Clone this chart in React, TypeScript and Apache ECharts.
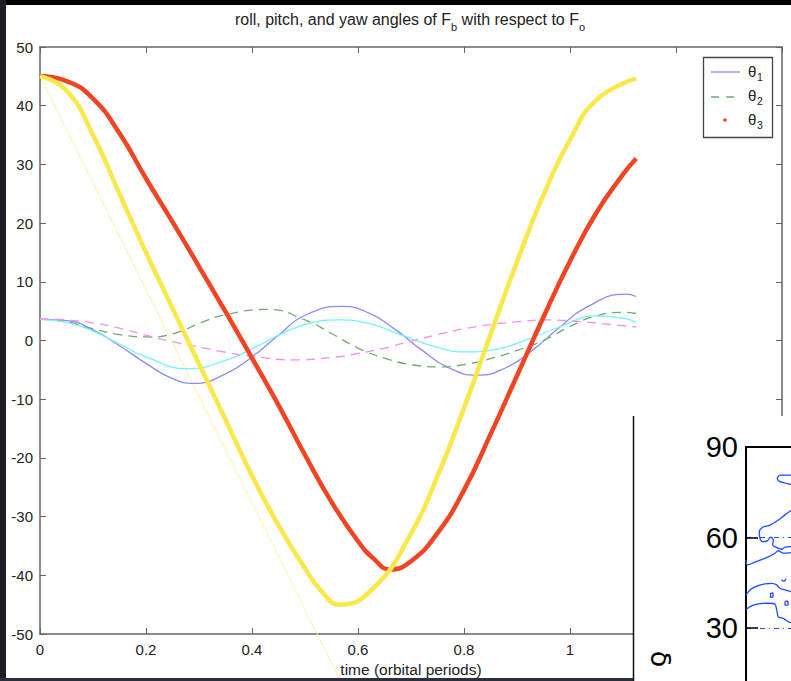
import React, { useEffect, useRef } from "react";
import * as echarts from "echarts";

// ---- main chart data (time in orbital periods, angles in degrees) ----
const theta1Time = [0, 0.05, 0.1, 0.15, 0.2, 0.25, 0.29, 0.35, 0.4, 0.45, 0.5, 0.57, 0.62, 0.67, 0.72, 0.77, 0.825, 0.88, 0.93, 0.98, 1.03, 1.105, 1.125];
const theta1 = [3.6, 3.4, 1.8, -0.9, -3.9, -6.5, -7.3, -5.7, -2.8, 0.9, 4.3, 5.8, 4.7, 1.9, -1.6, -4.6, -5.9, -4.6, -1.6, 2.2, 5.6, 7.9, 7.5];

const theta2Time = [0, 0.05, 0.1, 0.15, 0.21, 0.26, 0.3, 0.35, 0.43, 0.5, 0.55, 0.6, 0.65, 0.7, 0.755, 0.8, 0.85, 0.9, 0.95, 1.0, 1.05, 1.1, 1.125];
const theta2 = [3.6, 3.2, 2.0, 1.0, 0.6, 1.4, 2.9, 4.4, 5.3, 3.5, 1.2, -1.3, -3.0, -4.1, -4.5, -4.1, -3.1, -1.7, 0.0, 2.4, 4.2, 4.8, 4.6];

const theta3Time = [0, 0.05, 0.1, 0.15, 0.2, 0.25, 0.3, 0.35, 0.4, 0.45, 0.5, 0.55, 0.6, 0.63, 0.66, 0.7, 0.75, 0.8, 0.85, 0.9, 0.95, 1.0, 1.05, 1.1, 1.125];
const theta3 = [45, 44.2, 41.2, 35.3, 27.6, 20.2, 12.6, 4.9, -3, -11, -19.5, -27.5, -34.2, -37.2, -39, -37.6, -32.8, -25.5, -16, -6, 4, 13.5, 21.8, 28.3, 31];

const cyanTime = [0, 0.05, 0.1, 0.15, 0.2, 0.28, 0.35, 0.4, 0.45, 0.5, 0.56, 0.62, 0.68, 0.74, 0.8, 0.86, 0.92, 0.98, 1.05, 1.1, 1.125];
const cyanCurve = [3.6, 3.1, 1.6, -0.6, -2.8, -4.8, -3.4, -1.4, 0.9, 2.7, 3.5, 2.9, 1.0, -0.9, -1.95, -1.5, 0.2, 2.3, 4.2, 3.8, 3.1];

const magentaTime = [0, 0.05, 0.1, 0.15, 0.2, 0.25, 0.3, 0.35, 0.4, 0.48, 0.55, 0.6, 0.65, 0.7, 0.75, 0.8, 0.85, 0.9, 0.96, 1.02, 1.08, 1.125];
const magentaCurve = [3.7, 3.5, 3.0, 2.1, 0.9, -0.2, -1.1, -2.0, -2.7, -3.3, -2.9, -2.2, -1.3, -0.1, 1.0, 2.0, 2.7, 3.2, 3.5, 3.2, 2.7, 2.3];

const yellowTime = [0, 0.05, 0.1, 0.15, 0.2, 0.25, 0.3, 0.35, 0.4, 0.45, 0.5, 0.53, 0.566, 0.63, 0.7, 0.75, 0.8, 0.85, 0.9, 0.95, 1.0, 1.05, 1.125];
const yellowCurve = [45, 42.6, 35, 25, 15, 5.5, -4, -13.5, -23, -31.5, -38.8, -42.6, -45, -42.1, -32.9, -23.1, -11.5, 1.0, 13.4, 24.8, 34.2, 41.0, 44.6];

const guideTime = [0, 0.57];
const guideValue = [45, -58.5];

const xMin = 0;
const xMax = 1.4;
const xStep = 0.2;
const yMin = -50;
const yMax = 50;
const yStep = 10;

const titleText = "{n|roll, pitch, and yaw angles of F}{s|b}{n| with respect to F}{s|o}";
const xName = "time (orbital periods)";
const legendNames = ["1", "2", "3"];

// ---- inset (fragment of a second figure) data ----
const insetYMin = 0;
const insetYMax = 90;
const insetYStep = 30;
const contourA = [[45.7, 80.7], [34, 80.7], [31.3, 79.6], [34, 78.5], [45.7, 77.6]];
const contourB = [[45.7, 69.1], [39, 67.5], [32.3, 65.8], [24, 64.1], [16.7, 63.4], [13.3, 61.9], [14, 59.7], [16.7, 58.6], [21.3, 58.9], [24.7, 60.1], [27.3, 59.2], [26.7, 57.5], [30, 56.8], [35.7, 56.1], [39, 56.8], [45.7, 57.0]];
const contourC = [[0, 52.5], [1.3, 50.9], [7.3, 51.6], [14, 52.5], [22.3, 53.6], [29, 54.8], [32.3, 55.6], [37.3, 54.8], [45.7, 55.0]];
const contourD = [[0, 40.9], [4, 42.6], [10.7, 43.9], [19, 44.6], [25.7, 44.8], [30.7, 44.3], [34, 43.2], [39, 42.6], [45.7, 42.0]];
const contourD1 = [[24.5, 41.5], [27, 41.6], [27, 40.3], [24.5, 40.2], [24.5, 41.5]];
const contourD2 = [[39, 38.8], [42, 38.9], [42, 37.6], [39, 37.6], [39, 38.8]];
const contourD3 = [[35.5, 46], [38, 45.5], [40, 46.3]];
const contourE = [[0, 36.0], [4, 37.1], [12.3, 38.0], [22.3, 38.2], [29, 37.9], [30.7, 36.0], [32.3, 33.7], [37.3, 33.2], [42.3, 32.1], [45.7, 31.6]];
const contours = [contourA, contourB, contourC, contourD, contourD1, contourD2, contourD3, contourE];

const FONT = "'Liberation Sans', Arial, Helvetica, sans-serif";

function pairs(xs: number[], ys: number[]) {
  return xs.map((x, i) => [x, ys[i]]);
}

export default function App() {
  const ref = useRef<HTMLDivElement>(null);
  useEffect(() => {
    if (!ref.current) return;
    const chart = echarts.init(ref.current, null, { renderer: "svg" });

    const mainLine = (name: string, xs: number[], data: number[], color: string, width: number, type: any, z: number) => ({
      name,
      type: "line",
      xAxisIndex: 0,
      yAxisIndex: 0,
      data: pairs(xs, data),
      smooth: 0.5,
      showSymbol: false,
      symbol: "none",
      z,
      lineStyle: { color, width, type },
      silent: true,
    });

    const axisGray = "#666";
    const mainAxisLine = { onZero: false, lineStyle: { color: axisGray, width: 1.5 } };
    const mainTick = { inside: true, length: 6, lineStyle: { color: axisGray } };

    const option: any = {
      animation: false,
      backgroundColor: "#fff",
      grid: [
        { left: 40, top: 47, right: 9, bottom: 47, outerBoundsMode: "none", containLabel: false },
        { left: 746, top: 447, width: 60, height: 271.5, outerBoundsMode: "none", containLabel: false },
      ],
      xAxis: [
        {
          type: "value", gridIndex: 0, min: xMin, max: xMax, interval: xStep, position: "bottom",
          axisLine: mainAxisLine, axisTick: mainTick,
          axisLabel: { fontSize: 15, color: "#222", margin: 8, fontFamily: FONT },
          splitLine: { show: false },
          name: xName, nameLocation: "middle", nameGap: 24,
          nameTextStyle: { fontSize: 15.5, color: "#222", fontFamily: FONT },
        },
        {
          type: "value", gridIndex: 0, min: xMin, max: xMax, interval: xStep, position: "top",
          axisLine: mainAxisLine, axisTick: mainTick,
          axisLabel: { show: false }, splitLine: { show: false },
        },
        {
          type: "value", gridIndex: 1, min: 0, max: 60, position: "top", z: 21,
          axisLine: { onZero: false, lineStyle: { color: "#000", width: 2 } },
          axisTick: { show: false }, axisLabel: { show: false }, splitLine: { show: false },
        },
      ],
      yAxis: [
        {
          type: "value", gridIndex: 0, min: yMin, max: yMax, interval: yStep, position: "left",
          axisLine: mainAxisLine, axisTick: mainTick,
          axisLabel: { fontSize: 15, color: "#222", margin: 7, fontFamily: FONT },
          splitLine: { show: false },
        },
        {
          type: "value", gridIndex: 0, min: yMin, max: yMax, interval: yStep, position: "right",
          axisLine: mainAxisLine, axisTick: mainTick,
          axisLabel: { show: false }, splitLine: { show: false },
        },
        {
          type: "value", gridIndex: 1, min: insetYMin, max: insetYMax, interval: insetYStep,
          position: "left", z: 20,
          axisLine: { onZero: false, lineStyle: { color: "#000", width: 2 } },
          axisTick: { inside: true, length: 12, lineStyle: { color: "#000", width: 1.5 } },
          axisLabel: { fontSize: 29, color: "#000", margin: 8, fontFamily: FONT, showMinLabel: false },
          splitLine: { show: true, lineStyle: { color: "#2050ff", width: 1, type: [5, 4, 1, 4] } },
        },
      ],
      series: [
        {
          name: "guide", type: "line", xAxisIndex: 0, yAxisIndex: 0, clip: false,
          data: pairs(guideTime, guideValue), symbol: "none", z: 2,
          lineStyle: { color: "#fff0a8", width: 1 }, silent: true,
        },
        mainLine("θ1", theta1Time, theta1, "#8c8cf0", 1.3, "solid", 3),
        mainLine("θ2", theta2Time, theta2, "#72aa72", 1.3, [9, 6], 3),
        mainLine("θ3", theta3Time, theta3, "#f04422", 4.5, "solid", 4),
        mainLine("cyan", cyanTime, cyanCurve, "#74f4f4", 1.3, "solid", 3),
        mainLine("magenta", magentaTime, magentaCurve, "#f290f2", 1.3, [9, 6], 3),
        mainLine("yellow", yellowTime, yellowCurve, "#f8e84a", 4.5, "solid", 5),
        ...contours.map((c, i) => ({
          name: "contour" + i, type: "line", xAxisIndex: 2, yAxisIndex: 2,
          data: c, symbol: "none", smooth: 0.3, z: 20,
          lineStyle: { color: "#1f4dff", width: 1.3 }, silent: true,
        })),
      ],
      graphic: {
        elements: [
          {
            type: "text", x: 410, y: 22, z: 6,
            style: {
              text: titleText, align: "center", verticalAlign: "middle", fill: "#222",
              fontFamily: FONT,
              rich: {
                n: { fontSize: 16, lineHeight: 16, verticalAlign: "top", fontFamily: FONT, fill: "#222" },
                s: { fontSize: 11, lineHeight: 21, verticalAlign: "bottom", fontFamily: FONT, fill: "#222" },
              },
            },
          },
          { type: "rect", z: 6, shape: { x: 703.5, y: 57.5, width: 69, height: 80 }, style: { fill: "#fff", stroke: "#444", lineWidth: 1.3 } },
          { type: "line", z: 7, shape: { x1: 711, y1: 72, x2: 740, y2: 72 }, style: { stroke: "#8c8cf0", lineWidth: 1.3 } },
          { type: "line", z: 7, shape: { x1: 711, y1: 97, x2: 740, y2: 97 }, style: { stroke: "#72aa72", lineWidth: 1.3, lineDash: [8, 7] } },
          { type: "circle", z: 7, shape: { cx: 725, cy: 120, r: 1.8 }, style: { fill: "#f04422" } },
          ...legendNames.flatMap((n, i) => [
            { type: "text", z: 7, x: 748, y: 71 + i * 24, style: { text: "θ", fontSize: 15, fill: "#222", fontFamily: FONT, verticalAlign: "middle" } },
            { type: "text", z: 7, x: 757, y: 77 + i * 24, style: { text: n, fontSize: 10.5, fill: "#222", fontFamily: FONT, verticalAlign: "middle" } },
          ]),
          { type: "rect", z: 10, shape: { x: 633, y: 416, width: 160, height: 266 }, style: { fill: "#fff" } },
          { type: "line", z: 11, shape: { x1: 633.5, y1: 416, x2: 633.5, y2: 681 }, style: { stroke: "#111", lineWidth: 1.5 } },
          {
            type: "text", z: 12, x: 660, y: 659, rotation: -Math.PI / 2,
            style: { text: "δ", fontSize: 27, fill: "#000", fontFamily: "'DejaVu Sans', sans-serif", align: "center", verticalAlign: "middle" },
          },
          { type: "rect", z: 30, shape: { x: 0, y: 0, width: 791, height: 5 }, style: { fill: "#000" } },
          { type: "rect", z: 30, shape: { x: 0, y: 0, width: 6, height: 681 }, style: { fill: "#1b1e26" } },
          { type: "rect", z: 30, shape: { x: 0, y: 678, width: 633, height: 3 }, style: { fill: "#2a2f3b" } },
        ],
      },
    };

    chart.setOption(option);
    return () => chart.dispose();
  }, []);

  return (
    <div
      ref={ref}
      style={{ position: "fixed", left: 0, top: 0, width: 791, height: 681, background: "#fff" }}
    />
  );
}
